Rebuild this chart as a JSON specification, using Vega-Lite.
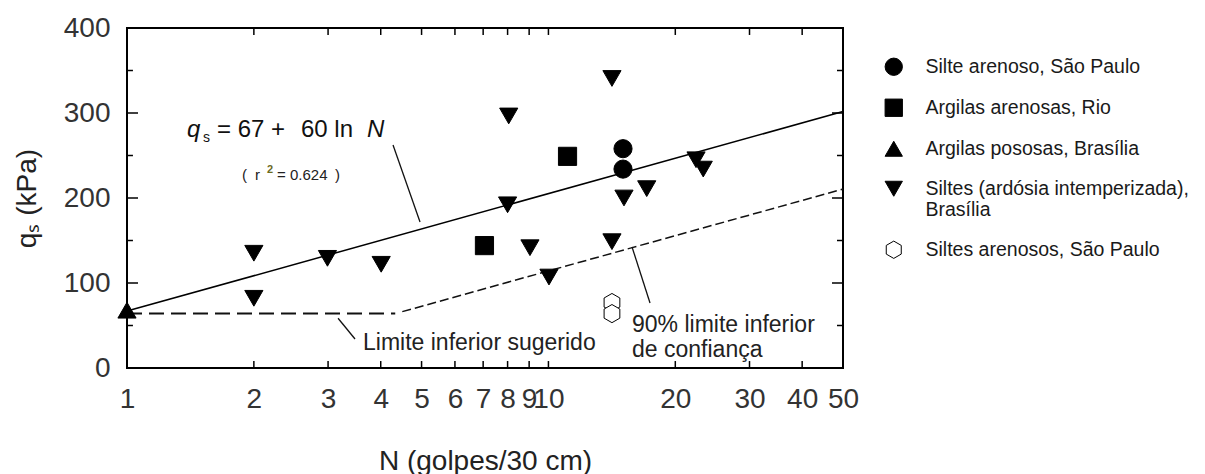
{
  "$schema": "https://vega.github.io/schema/vega-lite/v6.json",
  "width": 716,
  "height": 340,
  "autosize": {"type": "none"},
  "padding": {"left": 127, "top": 28, "right": 362, "bottom": 106},
  "background": "white",
  "config": {
    "view": {"stroke": "#000", "strokeWidth": 2},
    "font": "Liberation Sans",
    "axis": {
      "grid": false,
      "domain": false,
      "ticks": false,
      "tickSize": 0,
      "labelFont": "Liberation Sans",
      "labelFontSize": 28,
      "labelColor": "#333",
      "titleFont": "Liberation Sans",
      "titleFontSize": 28,
      "titleFontWeight": "normal",
      "titleColor": "#222"
    }
  },
  "datasets": {
    "points": [
      {"N": 15.03, "q": 258, "s": "Silte arenoso, São Paulo"},
      {"N": 15.03, "q": 234, "s": "Silte arenoso, São Paulo"},
      {"N": 11.1, "q": 249, "s": "Argilas arenosas, Rio"},
      {"N": 7.05, "q": 144, "s": "Argilas arenosas, Rio"},
      {"N": 1, "q": 68, "s": "Argilas pososas, Brasília"},
      {"N": 2.0, "q": 135, "s": "Siltes (ardósia intemperizada), Brasília"},
      {"N": 2.0, "q": 82, "s": "Siltes (ardósia intemperizada), Brasília"},
      {"N": 2.99, "q": 129, "s": "Siltes (ardósia intemperizada), Brasília"},
      {"N": 4.01, "q": 122, "s": "Siltes (ardósia intemperizada), Brasília"},
      {"N": 8.05, "q": 296.5, "s": "Siltes (ardósia intemperizada), Brasília"},
      {"N": 8.0, "q": 192, "s": "Siltes (ardósia intemperizada), Brasília"},
      {"N": 9.04, "q": 141.5, "s": "Siltes (ardósia intemperizada), Brasília"},
      {"N": 10.03, "q": 107, "s": "Siltes (ardósia intemperizada), Brasília"},
      {"N": 14.15, "q": 340.6, "s": "Siltes (ardósia intemperizada), Brasília"},
      {"N": 14.15, "q": 148.6, "s": "Siltes (ardósia intemperizada), Brasília"},
      {"N": 15.11, "q": 200, "s": "Siltes (ardósia intemperizada), Brasília"},
      {"N": 17.11, "q": 211, "s": "Siltes (ardósia intemperizada), Brasília"},
      {"N": 22.4, "q": 245, "s": "Siltes (ardósia intemperizada), Brasília"},
      {"N": 23.3, "q": 234, "s": "Siltes (ardósia intemperizada), Brasília"},
      {"N": 14.15, "q": 77, "s": "Siltes arenosos, São Paulo"},
      {"N": 14.15, "q": 64, "s": "Siltes arenosos, São Paulo"}
    ],
    "fit": [{"N": 1, "q": 67}, {"N": 50, "q": 301.7}],
    "lower": [{"N": 1, "q": 64}, {"N": 4.33, "q": 64}],
    "conf": [{"N": 4.5, "q": 66.3}, {"N": 15.8, "q": 141.6}, {"N": 50, "q": 210.5}],
    "leaders": [
      {"N1": 4.278, "q1": 262.4, "N2": 4.958, "q2": 171.8},
      {"N1": 3.168, "q1": 58.5, "N2": 3.476, "q2": 34.1},
      {"N1": 15.79, "q1": 142.4, "N2": 17.42, "q2": 76.5}
    ],
    "ticks": [
      {"N1": 2, "N2": 2, "q1": 0, "q2": 8.2}, {"N1": 3, "N2": 3, "q1": 0, "q2": 8.2},
      {"N1": 4, "N2": 4, "q1": 0, "q2": 8.2}, {"N1": 5, "N2": 5, "q1": 0, "q2": 8.2},
      {"N1": 6, "N2": 6, "q1": 0, "q2": 8.2}, {"N1": 7, "N2": 7, "q1": 0, "q2": 8.2},
      {"N1": 8, "N2": 8, "q1": 0, "q2": 8.2}, {"N1": 9, "N2": 9, "q1": 0, "q2": 8.2},
      {"N1": 10, "N2": 10, "q1": 0, "q2": 8.2}, {"N1": 20, "N2": 20, "q1": 0, "q2": 8.2},
      {"N1": 30, "N2": 30, "q1": 0, "q2": 8.2}, {"N1": 40, "N2": 40, "q1": 0, "q2": 8.2},
      {"N1": 2, "N2": 2, "q1": 391.8, "q2": 400}, {"N1": 3, "N2": 3, "q1": 391.8, "q2": 400},
      {"N1": 4, "N2": 4, "q1": 391.8, "q2": 400}, {"N1": 5, "N2": 5, "q1": 391.8, "q2": 400},
      {"N1": 6, "N2": 6, "q1": 391.8, "q2": 400}, {"N1": 7, "N2": 7, "q1": 391.8, "q2": 400},
      {"N1": 8, "N2": 8, "q1": 391.8, "q2": 400}, {"N1": 9, "N2": 9, "q1": 391.8, "q2": 400},
      {"N1": 10, "N2": 10, "q1": 391.8, "q2": 400}, {"N1": 20, "N2": 20, "q1": 391.8, "q2": 400},
      {"N1": 30, "N2": 30, "q1": 391.8, "q2": 400}, {"N1": 40, "N2": 40, "q1": 391.8, "q2": 400},
      {"N1": 1, "N2": 1.062, "q1": 100, "q2": 100}, {"N1": 1, "N2": 1.062, "q1": 200, "q2": 200},
      {"N1": 1, "N2": 1.062, "q1": 300, "q2": 300},
      {"N1": 47.08, "N2": 50, "q1": 100, "q2": 100}, {"N1": 47.08, "N2": 50, "q1": 200, "q2": 200},
      {"N1": 47.08, "N2": 50, "q1": 300, "q2": 300},
      {"N1": 1, "N2": 1.033, "q1": 50, "q2": 50}, {"N1": 1, "N2": 1.033, "q1": 150, "q2": 150},
      {"N1": 1, "N2": 1.033, "q1": 250, "q2": 250}, {"N1": 1, "N2": 1.033, "q1": 350, "q2": 350},
      {"N1": 48.39, "N2": 50, "q1": 50, "q2": 50}, {"N1": 48.39, "N2": 50, "q1": 150, "q2": 150},
      {"N1": 48.39, "N2": 50, "q1": 250, "q2": 250}, {"N1": 48.39, "N2": 50, "q1": 350, "q2": 350}
    ],
    "eq": [{"N": 1.388, "q": 271.8}],
    "r2": [{"N": 1.8747, "q": 221.2}],
    "lim": [{"N": 3.631, "q": 21.2}],
    "c90": [{"N": 15.79, "q": 42.4}]
  },
  "layer": [
    {
      "data": {"name": "ticks"},
      "mark": {"type": "rule", "color": "#000", "strokeWidth": 1.5},
      "encoding": {
        "x": {"field": "N1", "type": "quantitative", "scale": {"type": "log", "domain": [1, 50], "nice": false}, "axis": null},
        "y": {"field": "q1", "type": "quantitative", "scale": {"domain": [0, 400], "nice": false, "zero": false}, "axis": null},
        "x2": {"field": "N2"},
        "y2": {"field": "q2"}
      }
    },
    {
      "data": {"name": "fit"},
      "mark": {"type": "line", "color": "#000", "strokeWidth": 1.5},
      "encoding": {
        "x": {"field": "N", "type": "quantitative", "axis": null},
        "y": {"field": "q", "type": "quantitative", "axis": null}
      }
    },
    {
      "data": {"name": "lower"},
      "mark": {"type": "line", "color": "#111", "strokeWidth": 2, "strokeDash": [15, 7]},
      "encoding": {
        "x": {"field": "N", "type": "quantitative", "axis": null},
        "y": {"field": "q", "type": "quantitative", "axis": null}
      }
    },
    {
      "data": {"name": "conf"},
      "mark": {"type": "line", "color": "#111", "strokeWidth": 1.5, "strokeDash": [9, 4]},
      "encoding": {
        "x": {"field": "N", "type": "quantitative", "axis": null},
        "y": {"field": "q", "type": "quantitative", "axis": null}
      }
    },
    {
      "data": {"name": "leaders"},
      "mark": {"type": "rule", "color": "#111", "strokeWidth": 1.3},
      "encoding": {
        "x": {"field": "N1", "type": "quantitative", "axis": null},
        "y": {"field": "q1", "type": "quantitative", "axis": null},
        "x2": {"field": "N2"},
        "y2": {"field": "q2"}
      }
    },
    {
      "data": {"name": "points"},
      "mark": {"type": "point", "strokeWidth": 1, "opacity": 1, "size": 330},
      "encoding": {
        "x": {"field": "N", "type": "quantitative",
          "axis": {"orient": "bottom", "values": [1, 2, 3, 4, 5, 6, 7, 8, 9, 10, 20, 30, 40, 50], "format": "d", "labelPadding": 17, "labelOverlap": false, "labelFlush": false, "title": "N (golpes/30 cm)", "titleY": 79}},
        "y": {"field": "q", "type": "quantitative",
          "axis": {"orient": "left", "values": [0, 100, 200, 300, 400], "labelPadding": 17, "title": "qₛ (kPa)", "titleX": -86}},
        "shape": {"field": "s", "type": "nominal",
          "scale": {"domain": ["Silte arenoso, São Paulo", "Argilas arenosas, Rio", "Argilas pososas, Brasília", "Siltes (ardósia intemperizada), Brasília", "Siltes arenosos, São Paulo"],
            "range": ["circle", "square", "triangle-up", "triangle-down", "M0,-1L0.866,-0.5L0.866,0.5L0,1L-0.866,0.5L-0.866,-0.5Z"]},
          "legend": {"orient": "none", "legendX": 757, "legendY": 29, "title": null, "symbolSize": 300, "labelFontSize": 19.5, "labelFont": "Liberation Sans", "labelColor": "#1a1a1a", "rowPadding": 19, "labelOffset": 22, "padding": 0, "labelLimit": 400, "symbolStrokeWidth": 1,
            "labelExpr": "datum.label == 'Siltes (ardósia intemperizada), Brasília' ? ['Siltes (ardósia intemperizada),', 'Brasília'] : datum.label"}},
        "fill": {"field": "s", "type": "nominal",
          "scale": {"domain": ["Silte arenoso, São Paulo", "Argilas arenosas, Rio", "Argilas pososas, Brasília", "Siltes (ardósia intemperizada), Brasília", "Siltes arenosos, São Paulo"],
            "range": ["#000", "#000", "#000", "#000", "#fff"]}},
        "stroke": {"field": "s", "type": "nominal",
          "scale": {"domain": ["Silte arenoso, São Paulo", "Argilas arenosas, Rio", "Argilas pososas, Brasília", "Siltes (ardósia intemperizada), Brasília", "Siltes arenosos, São Paulo"],
            "range": ["#000", "#000", "#000", "#000", "#000"]}}
      }
    },
    {
      "data": {"name": "eq"},
      "mark": {"type": "text", "text": "q", "fontSize": 24, "fontStyle": "italic", "align": "left", "baseline": "alphabetic", "color": "#111"},
      "encoding": {"x": {"field": "N", "type": "quantitative", "axis": null}, "y": {"field": "q", "type": "quantitative", "axis": null}}
    },
    {
      "data": {"name": "eq"},
      "mark": {"type": "text", "text": "s", "fontSize": 14, "align": "left", "baseline": "alphabetic", "color": "#111", "dx": 16, "dy": 5},
      "encoding": {"x": {"field": "N", "type": "quantitative", "axis": null}, "y": {"field": "q", "type": "quantitative", "axis": null}}
    },
    {
      "data": {"name": "eq"},
      "mark": {"type": "text", "text": "= 67 +", "fontSize": 24, "align": "left", "baseline": "alphabetic", "color": "#111", "dx": 30},
      "encoding": {"x": {"field": "N", "type": "quantitative", "axis": null}, "y": {"field": "q", "type": "quantitative", "axis": null}}
    },
    {
      "data": {"name": "eq"},
      "mark": {"type": "text", "text": "60 ln", "fontSize": 24, "align": "left", "baseline": "alphabetic", "color": "#111", "dx": 114},
      "encoding": {"x": {"field": "N", "type": "quantitative", "axis": null}, "y": {"field": "q", "type": "quantitative", "axis": null}}
    },
    {
      "data": {"name": "eq"},
      "mark": {"type": "text", "text": "N", "fontSize": 24, "fontStyle": "italic", "align": "left", "baseline": "alphabetic", "color": "#111", "dx": 180},
      "encoding": {"x": {"field": "N", "type": "quantitative", "axis": null}, "y": {"field": "q", "type": "quantitative", "axis": null}}
    },
    {
      "data": {"name": "r2"},
      "mark": {"type": "text", "text": "(", "fontSize": 15, "align": "left", "baseline": "alphabetic", "color": "#222"},
      "encoding": {"x": {"field": "N", "type": "quantitative", "axis": null}, "y": {"field": "q", "type": "quantitative", "axis": null}}
    },
    {
      "data": {"name": "r2"},
      "mark": {"type": "text", "text": "r", "fontSize": 15, "align": "left", "baseline": "alphabetic", "color": "#222", "dx": 13},
      "encoding": {"x": {"field": "N", "type": "quantitative", "axis": null}, "y": {"field": "q", "type": "quantitative", "axis": null}}
    },
    {
      "data": {"name": "r2"},
      "mark": {"type": "text", "text": "2", "fontSize": 11, "fontWeight": "bold", "align": "left", "baseline": "alphabetic", "color": "#6b6b1f", "dx": 25, "dy": -7},
      "encoding": {"x": {"field": "N", "type": "quantitative", "axis": null}, "y": {"field": "q", "type": "quantitative", "axis": null}}
    },
    {
      "data": {"name": "r2"},
      "mark": {"type": "text", "text": "= 0.624", "fontSize": 15, "align": "left", "baseline": "alphabetic", "color": "#222", "dx": 35},
      "encoding": {"x": {"field": "N", "type": "quantitative", "axis": null}, "y": {"field": "q", "type": "quantitative", "axis": null}}
    },
    {
      "data": {"name": "r2"},
      "mark": {"type": "text", "text": ")", "fontSize": 15, "align": "left", "baseline": "alphabetic", "color": "#222", "dx": 93},
      "encoding": {"x": {"field": "N", "type": "quantitative", "axis": null}, "y": {"field": "q", "type": "quantitative", "axis": null}}
    },
    {
      "data": {"name": "lim"},
      "mark": {"type": "text", "text": "Limite inferior sugerido", "fontSize": 23, "align": "left", "baseline": "alphabetic", "color": "#222"},
      "encoding": {"x": {"field": "N", "type": "quantitative", "axis": null}, "y": {"field": "q", "type": "quantitative", "axis": null}}
    },
    {
      "data": {"name": "c90"},
      "mark": {"type": "text", "text": ["90% limite inferior", "de confiança"], "fontSize": 23, "lineHeight": 25, "align": "left", "baseline": "alphabetic", "color": "#222"},
      "encoding": {"x": {"field": "N", "type": "quantitative", "axis": null}, "y": {"field": "q", "type": "quantitative", "axis": null}}
    }
  ],
  "resolve": {"axis": {"x": "independent", "y": "independent"}}
}
